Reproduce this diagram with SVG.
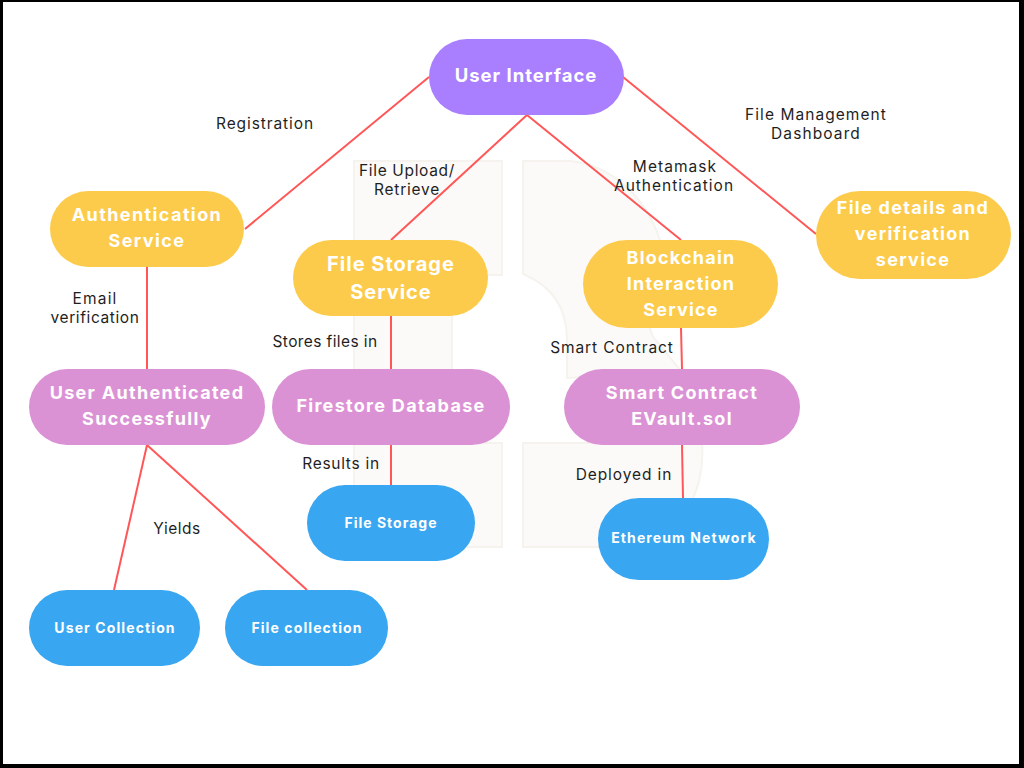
<svg xmlns="http://www.w3.org/2000/svg" width="1024" height="768" viewBox="0 0 1024 768">
<style>
.n{font-family:Inter,"Liberation Sans",sans-serif;font-weight:700;fill:#fff;text-anchor:middle}
.l{font-family:Inter,"Liberation Sans",sans-serif;font-size:15.5px;fill:#1f1f1f;text-anchor:middle}
.c line{stroke:#ff5757;stroke-width:2}
.wm{fill:#fcfaf8;stroke:#f6f3ee;stroke-width:2}
.y{fill:#fdcb4b}.p{fill:#db92d5}.b{fill:#38a6f0}
</style>
<rect x="0" y="0" width="1024" height="768" fill="#000"/>
<rect x="3" y="2" width="1016" height="762" fill="#fff"/>
<g id="watermark">
<path class="wm" d="M354 161H502V275H452V443H502V547H354Z"/>
<path class="wm" d="M523 161H570C610 165 645 195 660 240L664 262L640 300L653 337L682 372L567 378V340C567 305 550 285 523 274Z"/>
<path class="wm" d="M523 443H702C705 480 690 525 650 547H523Z"/>
</g>
<g class="c" id="connectors">
<line x1="429" y1="77" x2="245" y2="229"/>
<line x1="527" y1="115" x2="391" y2="240"/>
<line x1="527" y1="115" x2="681" y2="240"/>
<line x1="623" y1="77" x2="816" y2="234"/>
<line x1="147" y1="267" x2="147" y2="369"/>
<line x1="391" y1="316" x2="391" y2="369"/>
<line x1="681" y1="328" x2="682" y2="369"/>
<line x1="391" y1="445" x2="391" y2="485"/>
<line x1="682" y1="445" x2="683" y2="498"/>
<line x1="147" y1="445" x2="114" y2="590"/>
<line x1="147" y1="445" x2="307" y2="590"/>
</g>
<g id="ui"><rect x="429" y="39" width="195" height="76" rx="38" fill="#a97eff"/><text class="n" x="526" y="82" font-size="18.5" letter-spacing="1">User Interface</text></g>
<g id="auth"><rect class="y" x="50" y="191" width="194" height="76" rx="38"/><text class="n" x="147" y="221" font-size="18" letter-spacing="1.4">Authentication</text><text class="n" x="147" y="247" font-size="18" letter-spacing="1.4">Service</text></g>
<g id="filestore"><rect class="y" x="293" y="240" width="195" height="76" rx="38"/><text class="n" x="391" y="271" font-size="20" letter-spacing="1">File Storage</text><text class="n" x="391" y="299" font-size="20" letter-spacing="1">Service</text></g>
<g id="blockchain"><rect class="y" x="583" y="240" width="195" height="88" rx="44"/><text class="n" x="681" y="264" font-size="18" letter-spacing="1.2">Blockchain</text><text class="n" x="681" y="290" font-size="18" letter-spacing="1.2">Interaction</text><text class="n" x="681" y="316" font-size="18" letter-spacing="1.2">Service</text></g>
<g id="details"><rect class="y" x="816" y="191" width="195" height="88" rx="44"/><text class="n" x="913" y="214" font-size="18" letter-spacing="1.3">File details and</text><text class="n" x="913" y="240" font-size="18" letter-spacing="1.3">verification</text><text class="n" x="913" y="266" font-size="18" letter-spacing="1.3">service</text></g>
<g id="authed"><rect class="p" x="29" y="369" width="236" height="76" rx="38"/><text class="n" x="147" y="399" font-size="18" letter-spacing="1.3">User Authenticated</text><text class="n" x="147" y="425" font-size="18" letter-spacing="1.3">Successfully</text></g>
<g id="firestore"><rect class="p" x="272" y="369" width="238" height="76" rx="38"/><text class="n" x="391" y="412" font-size="18" letter-spacing="1.3">Firestore Database</text></g>
<g id="contract"><rect class="p" x="564" y="369" width="236" height="76" rx="38"/><text class="n" x="682" y="399" font-size="18" letter-spacing="1.3">Smart Contract</text><text class="n" x="682" y="425" font-size="18" letter-spacing="1.3">EVault.sol</text></g>
<g id="storage"><rect class="b" x="307" y="485" width="168" height="76" rx="38"/><text class="n" x="391" y="528" font-size="14" letter-spacing="1">File Storage</text></g>
<g id="ethereum"><rect class="b" x="598" y="498" width="171" height="82" rx="41"/><text class="n" x="684" y="543" font-size="14" letter-spacing="1.1">Ethereum Network</text></g>
<g id="usercol"><rect class="b" x="29" y="590" width="171" height="76" rx="38"/><text class="n" x="115" y="633" font-size="14" letter-spacing="1.1">User Collection</text></g>
<g id="filecol"><rect class="b" x="225" y="590" width="163" height="76" rx="38"/><text class="n" x="307" y="633" font-size="14" letter-spacing="1.1">File collection</text></g>
<g id="labels">
<text class="l" x="265" y="129" letter-spacing="0.9">Registration</text>
<text class="l" x="407" y="176" letter-spacing="0.65">File Upload/</text><text class="l" x="407" y="195" letter-spacing="0.75">Retrieve</text>
<text class="l" x="675" y="172" letter-spacing="1.05">Metamask</text><text class="l" x="674" y="191" letter-spacing="1">Authentication</text>
<text class="l" x="816" y="120" letter-spacing="1.05">File Management</text><text class="l" x="816" y="139" letter-spacing="1.1">Dashboard</text>
<text class="l" x="95" y="304" letter-spacing="1.2">Email</text><text class="l" x="95" y="323" letter-spacing="0.6">verification</text>
<text class="l" x="325" y="347" letter-spacing="0.4">Stores files in</text>
<text class="l" x="612" y="353" letter-spacing="0.9">Smart Contract</text>
<text class="l" x="341" y="469" letter-spacing="0.7">Results in</text>
<text class="l" x="624" y="480" letter-spacing="0.9">Deployed in</text>
<text class="l" x="177" y="534" letter-spacing="0.5">Yields</text>
</g>
</svg>
